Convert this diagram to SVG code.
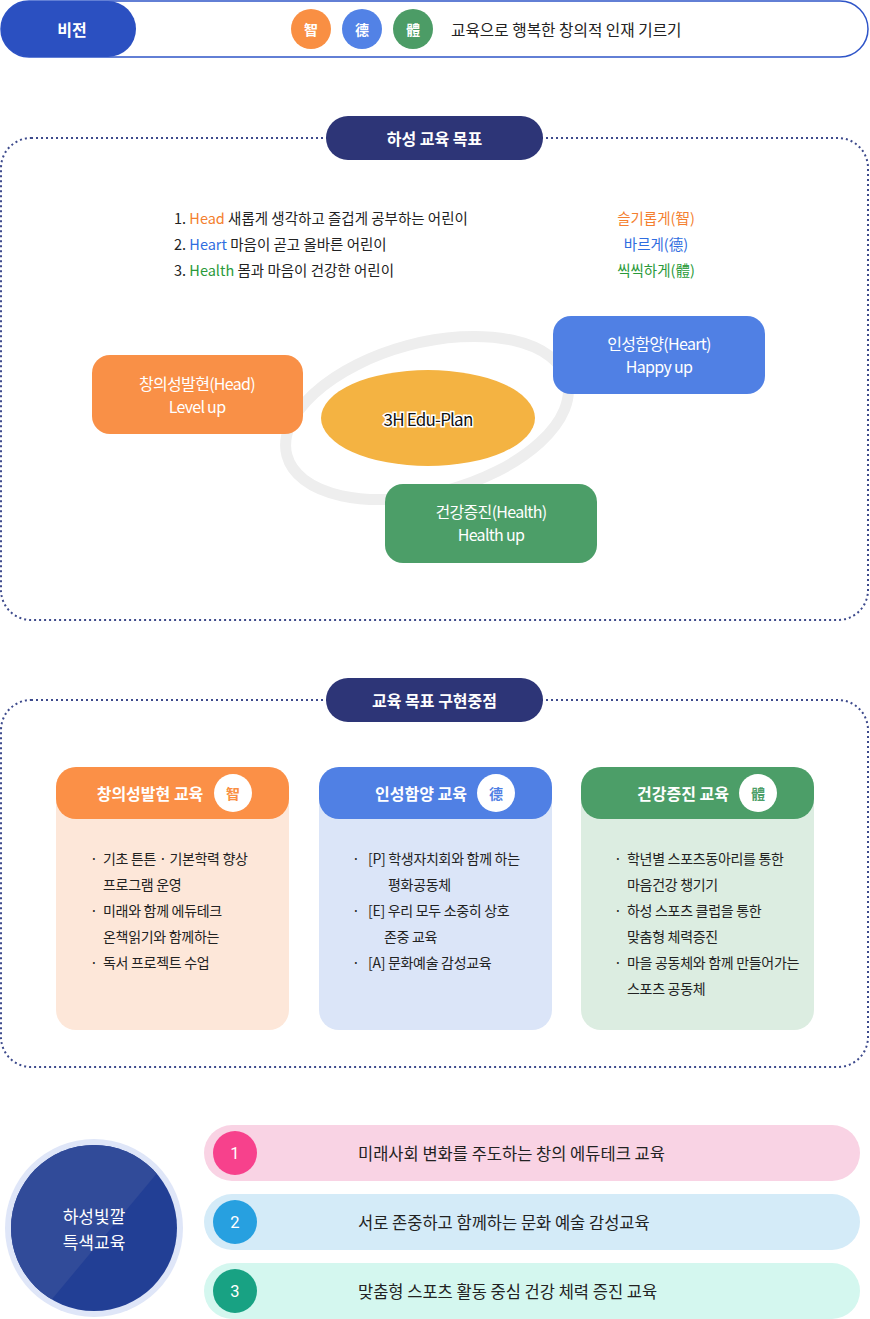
<svg xmlns="http://www.w3.org/2000/svg" width="870" height="1319" viewBox="0 0 870 1319">
<defs>
<style>
text{font-family:"Noto Sans CJK KR","Noto Sans",sans-serif;}
.w{fill:#fff;}
.pillT{font-size:16px;font-weight:bold;fill:#fff;text-anchor:middle;dominant-baseline:central;}
.dot{fill:none;stroke:#3d4a8c;stroke-width:2;stroke-dasharray:2 3;}
.g{font-size:14.5px;dominant-baseline:central;}
.bx{font-size:16px;fill:#fff;text-anchor:middle;dominant-baseline:central;letter-spacing:-0.7px;}
.ct{font-size:14px;fill:#222;dominant-baseline:central;letter-spacing:-0.3px;}
.hd{font-size:16px;font-weight:bold;fill:#fff;text-anchor:middle;dominant-baseline:central;}
.hz{font-size:14px;font-weight:bold;text-anchor:middle;dominant-baseline:central;}
.vt{font-size:15.7px;fill:#222;dominant-baseline:central;}
.pt{font-size:16.5px;fill:#222;dominant-baseline:central;}
.num{font-size:16.5px;fill:#fff;text-anchor:middle;dominant-baseline:central;font-family:Roboto,"Noto Sans",sans-serif;}
</style>
<clipPath id="cc"><circle cx="94" cy="1228" r="83"/></clipPath>
</defs>

<g id="vision">
<rect x="1" y="1" width="867" height="56" rx="28" fill="#fff" stroke="#2f55c8" stroke-width="1.5"/>
<rect x="1" y="1" width="135" height="56" rx="28" fill="#2b50c1"/>
<text x="72" y="29" class="hd">비전</text>
<circle cx="311" cy="29" r="20" fill="#f98f43"/>
<text x="311" y="29" class="hz" fill="#fff">智</text>
<circle cx="362" cy="29" r="20" fill="#5282e6"/>
<text x="362" y="29" class="hz" fill="#fff">德</text>
<circle cx="413" cy="29" r="20" fill="#4c9c66"/>
<text x="413" y="29" class="hz" fill="#fff">體</text>
<text x="451" y="29" class="vt">교육으로 행복한 창의적 인재 기르기</text>
</g>

<g id="section-goals">
<rect x="1" y="138" width="867" height="482" rx="30" class="dot"/>
<rect x="326" y="116" width="217" height="44" rx="22" fill="#2d3577"/>
<text x="434.5" y="138" class="pillT">하성 교육 목표</text>
<text x="174" y="217" class="g" fill="#222">1. <tspan fill="#f47f2f">Head</tspan> 새롭게 생각하고 즐겁게 공부하는 어린이</text>
<text x="174" y="243" class="g" fill="#222">2. <tspan fill="#2f6de0">Heart</tspan> 마음이 곧고 올바른 어린이</text>
<text x="174" y="269" class="g" fill="#222">3. <tspan fill="#2a9a3a">Health</tspan> 몸과 마음이 건강한 어린이</text>
<text x="656" y="217" class="g" text-anchor="middle" fill="#f47f2f">슬기롭게(智)</text>
<text x="656" y="243" class="g" text-anchor="middle" fill="#2f6de0">바르게(德)</text>
<text x="656" y="269" class="g" text-anchor="middle" fill="#2a9a3a">씩씩하게(體)</text>
</g>

<g id="ring">
<ellipse cx="427" cy="418" rx="145" ry="75" transform="rotate(-15 427 418)" fill="none" stroke="#eeeeee" stroke-width="11"/>
</g>

<g id="center-plan">
<ellipse cx="428" cy="418" rx="107" ry="48" fill="#f4b342"/>
<text x="428" y="418" text-anchor="middle" dominant-baseline="central" font-size="17" fill="#111" stroke="#fff" stroke-width="3" paint-order="stroke" letter-spacing="-0.8">3H Edu-Plan</text>
</g>

<g id="node-head">
<rect x="92" y="355" width="211" height="79" rx="18" fill="#f99047"/>
<text x="197" y="383" class="bx">창의성발현(Head)</text>
<text x="197" y="406" class="bx">Level up</text>
</g>
<g id="node-heart">
<rect x="553" y="316" width="212" height="78" rx="18" fill="#5080e4"/>
<text x="659" y="343" class="bx">인성함양(Heart)</text>
<text x="659" y="366" class="bx">Happy up</text>
</g>
<g id="node-health">
<rect x="385" y="484" width="212" height="79" rx="18" fill="#4c9e68"/>
<text x="491" y="511" class="bx">건강증진(Health)</text>
<text x="491" y="534" class="bx">Health up</text>
</g>

<g id="section-focus">
<rect x="1" y="700" width="867" height="367" rx="30" class="dot"/>
<rect x="326" y="678" width="217" height="44" rx="22" fill="#2d3577"/>
<text x="434.5" y="700" class="pillT">교육 목표 구현중점</text>
</g>

<g id="card-head">
<rect x="56" y="767" width="233" height="263" rx="20" fill="#fde7d9"/>
<rect x="56" y="767" width="233" height="52" rx="20" fill="#fb9047"/>
<text x="150" y="793" class="hd">창의성발현 교육</text>
<circle cx="233" cy="793" r="19" fill="#fff"/>
<text x="233" y="793" class="hz" fill="#f98f43">智</text>
<text x="90" y="858" class="ct">·</text><text x="103" y="858" class="ct">기초 튼튼 · 기본학력 향상</text>
<text x="103" y="884" class="ct">프로그램 운영</text>
<text x="90" y="910" class="ct">·</text><text x="103" y="910" class="ct">미래와 함께 에듀테크</text>
<text x="103" y="936" class="ct">온책읽기와 함께하는</text>
<text x="90" y="962" class="ct">·</text><text x="103" y="962" class="ct">독서 프로젝트 수업</text>
</g>

<g id="card-heart">
<rect x="319" y="767" width="233" height="263" rx="20" fill="#dbe5f8"/>
<rect x="319" y="767" width="233" height="52" rx="20" fill="#5080e4"/>
<text x="421" y="793" class="hd">인성함양 교육</text>
<circle cx="496" cy="793" r="19" fill="#fff"/>
<text x="496" y="793" class="hz" fill="#5080e4">德</text>
<text x="352" y="858" class="ct">·</text><text x="368" y="858" class="ct">[P] 학생자치회와 함께 하는</text>
<text x="388" y="884" class="ct">평화공동체</text>
<text x="352" y="910" class="ct">·</text><text x="368" y="910" class="ct">[E] 우리 모두 소중히 상호</text>
<text x="384" y="936" class="ct">존중 교육</text>
<text x="352" y="962" class="ct">·</text><text x="368" y="962" class="ct">[A] 문화예술 감성교육</text>
</g>

<g id="card-health">
<rect x="581" y="767" width="233" height="263" rx="20" fill="#dcede1"/>
<rect x="581" y="767" width="233" height="52" rx="20" fill="#4c9e68"/>
<text x="683" y="793" class="hd">건강증진 교육</text>
<circle cx="758" cy="793" r="19" fill="#fff"/>
<text x="758" y="793" class="hz" fill="#4c9e68">體</text>
<text x="614" y="858" class="ct">·</text><text x="627" y="858" class="ct">학년별 스포츠동아리를 통한</text>
<text x="627" y="884" class="ct">마음건강 챙기기</text>
<text x="614" y="910" class="ct">·</text><text x="627" y="910" class="ct">하성 스포츠 클럽을 통한</text>
<text x="627" y="936" class="ct">맞춤형 체력증진</text>
<text x="614" y="962" class="ct">·</text><text x="627" y="962" class="ct">마을 공동체와 함께 만들어가는</text>
<text x="627" y="988" class="ct">스포츠 공동체</text>
</g>

<g id="special">
<circle cx="94" cy="1228" r="89" fill="#dfe6f8"/>
<circle cx="94" cy="1228" r="83" fill="#223f95"/>
<g clip-path="url(#cc)">
<polygon points="0,1100 218,1100 18,1340 0,1340" fill="#314b99"/>
</g>
<text x="94" y="1215" font-size="17" class="w" text-anchor="middle" dominant-baseline="central">하성빛깔</text>
<text x="94" y="1241" font-size="17" class="w" text-anchor="middle" dominant-baseline="central">특색교육</text>
</g>

<g id="item-1">
<rect x="204" y="1125" width="656" height="56" rx="28" fill="#f9d3e4"/>
<circle cx="235" cy="1153" r="22" fill="#f7418c"/>
<text x="235" y="1153" class="num">1</text>
<text x="358" y="1153" class="pt">미래사회 변화를 주도하는 창의 에듀테크 교육</text>
</g>
<g id="item-2">
<rect x="204" y="1194" width="656" height="56" rx="28" fill="#d4ebf8"/>
<circle cx="235" cy="1222" r="22" fill="#27a0e0"/>
<text x="235" y="1222" class="num">2</text>
<text x="358" y="1222" class="pt">서로 존중하고 함께하는 문화 예술 감성교육</text>
</g>
<g id="item-3">
<rect x="204" y="1263" width="656" height="56" rx="28" fill="#d4f7ef"/>
<circle cx="235" cy="1291" r="22" fill="#18a283"/>
<text x="235" y="1291" class="num">3</text>
<text x="358" y="1291" class="pt">맞춤형 스포츠 활동 중심 건강 체력 증진 교육</text>
</g>
</svg>
